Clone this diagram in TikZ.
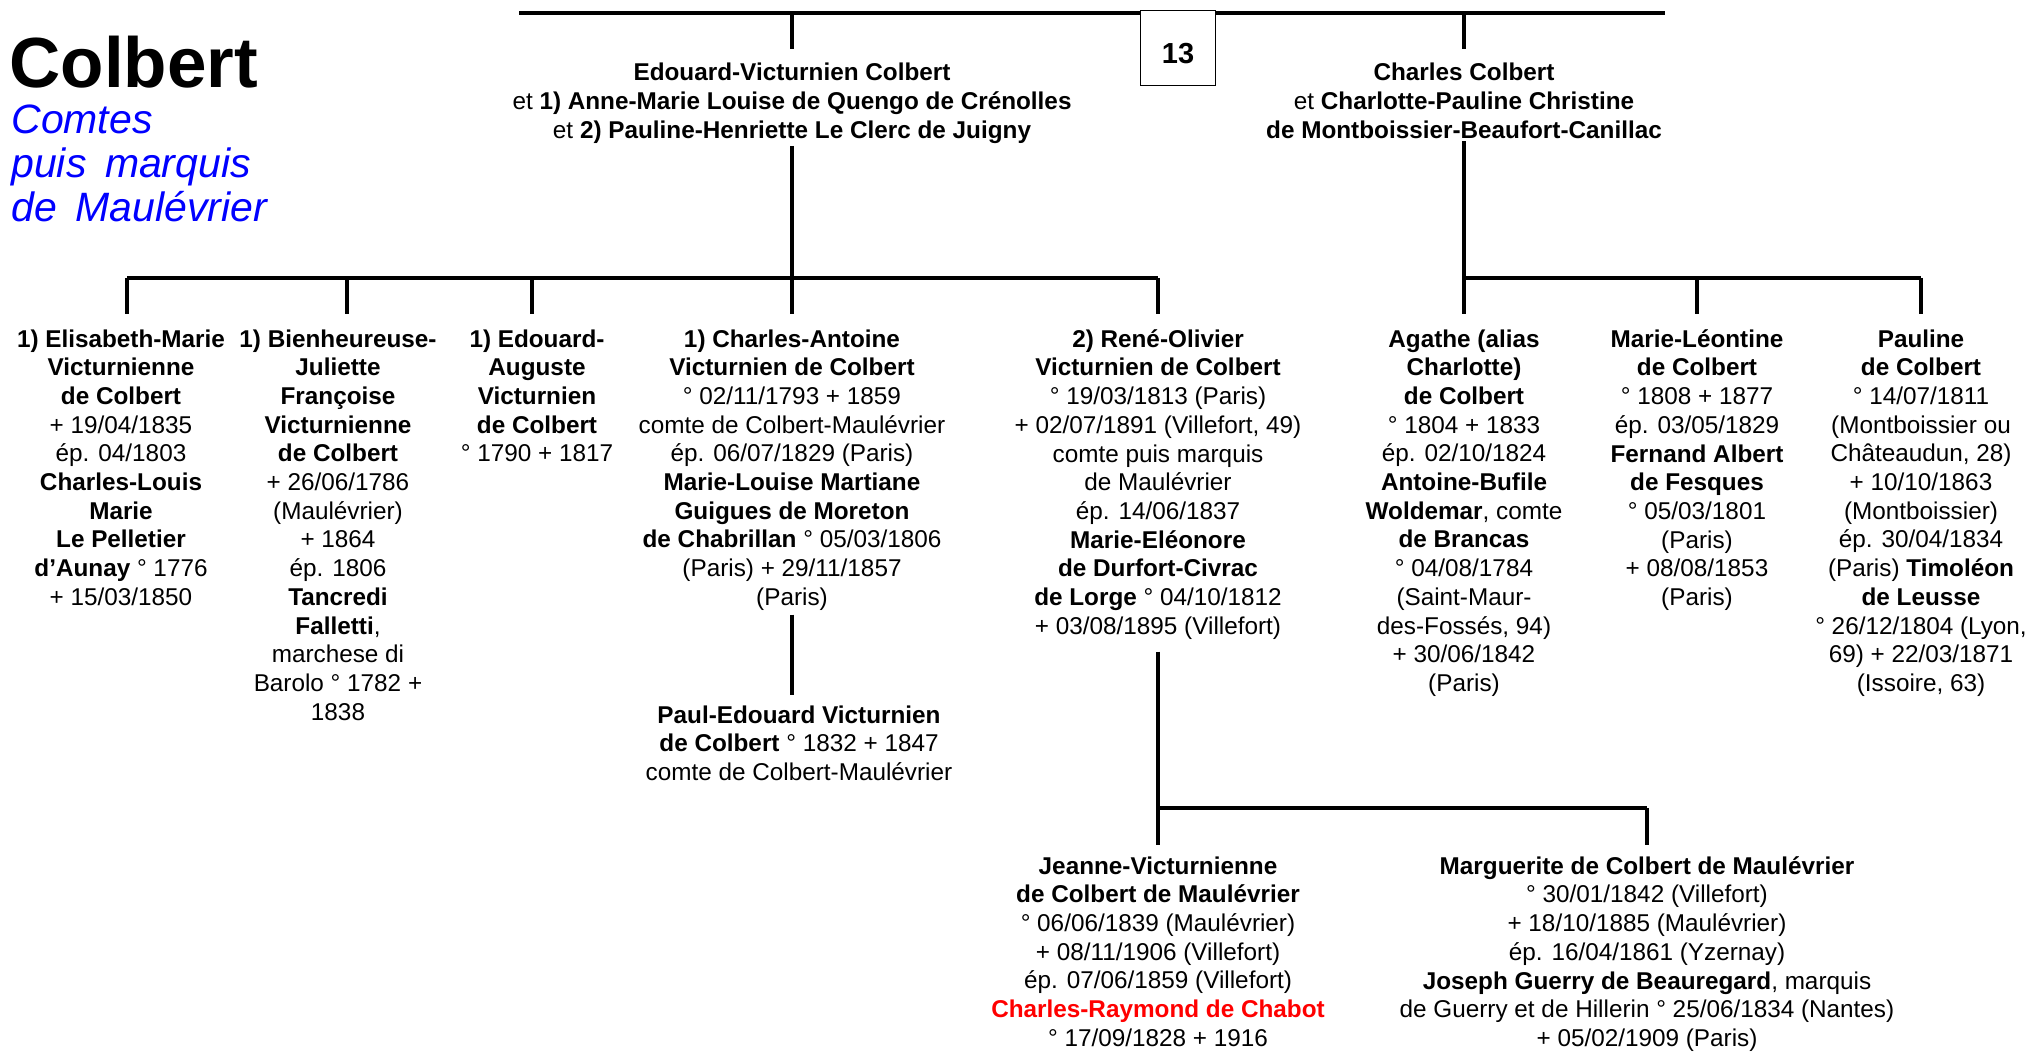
\documentclass[tikz,border=0pt]{standalone}
\usepackage{fontspec}
\setmainfont{Liberation Sans}
\usetikzlibrary{calc}
\definecolor{titleblue}{RGB}{0,0,255}
\definecolor{namered}{RGB}{255,0,0}
\newcommand{\widespaces}{\spaceskip=0.45em\relax}
\begin{document}
\begin{tikzpicture}[x=0.5pt,y=-0.5pt,
  person/.style={align=center,inner sep=0pt,anchor=north,
    font=\fontsize{12.15}{14.35}\selectfont},
  link/.style={line width=1.6pt},
  numbox/.style={draw,fill=white,line width=0.5pt,minimum size=37.5pt,inner sep=0pt,
    text height=14.9pt,text depth=0pt,font=\fontsize{14.5}{16}\selectfont\bfseries},
]
\fill[white] (0,0) rectangle (2028,1052);
\useasboundingbox (0,0) rectangle (2028,1052);

% title block
\node[anchor=base west,inner sep=0pt,font=\fontsize{35.5}{40}\selectfont\bfseries] (title) at (9,88) {Colbert};
\node[anchor=north west,inner sep=0pt,align=left,text=titleblue,
  font=\fontsize{20.5}{22}\selectfont\itshape\widespaces] (subtitle) at (11,104)
  {Comtes\\ puis marquis\\ de Maulévrier};

% parents
\node[person] (ev) at (792,63) {\textbf{Edouard-Victurnien Colbert}\\
  et \textbf{1) Anne-Marie Louise de Quengo de Crénolles}\\
  et \textbf{2) Pauline-Henriette Le Clerc de Juigny}};
\node[person] (cc) at (1464,63) {\textbf{Charles Colbert}\\
  et \textbf{Charlotte-Pauline Christine}\\
  \textbf{de Montboissier-Beaufort-Canillac}};

% children of Edouard-Victurnien
\node[person] (el) at (121,329) {\textbf{1) Elisabeth-Marie}\\ \textbf{Victurnienne}\\
  \textbf{de Colbert}\\ + 19/04/1835\\ ép. 04/1803\\ \textbf{Charles-Louis}\\
  \textbf{Marie}\\ \textbf{Le Pelletier}\\ \textbf{d’Aunay} ° 1776\\ + 15/03/1850};
\node[person] (bj) at (338,329) {\textbf{1) Bienheureuse-}\\ \textbf{Juliette}\\
  \textbf{Françoise}\\ \textbf{Victurnienne}\\ \textbf{de Colbert}\\ + 26/06/1786\\
  (Maulévrier)\\ + 1864\\ ép. 1806\\ \textbf{Tancredi}\\ \textbf{Falletti},\\
  marchese di\\ Barolo ° 1782 +\\ 1838};
\node[person] (ea) at (537,329) {\textbf{1) Edouard-}\\ \textbf{Auguste}\\
  \textbf{Victurnien}\\ \textbf{de Colbert}\\ ° 1790 + 1817};
\node[person] (ca) at (792,329) {\textbf{1) Charles-Antoine}\\
  \textbf{Victurnien de Colbert}\\ ° 02/11/1793 + 1859\\ comte de Colbert-Maulévrier\\
  ép. 06/07/1829 (Paris)\\ \textbf{Marie-Louise Martiane}\\ \textbf{Guigues de Moreton}\\
  \textbf{de Chabrillan} ° 05/03/1806\\ (Paris) + 29/11/1857\\ (Paris)};
\node[person] (ro) at (1158,329) {\textbf{2) René-Olivier}\\ \textbf{Victurnien de Colbert}\\
  ° 19/03/1813 (Paris)\\ + 02/07/1891 (Villefort, 49)\\ comte puis marquis\\
  de Maulévrier\\ ép. 14/06/1837\\ \textbf{Marie-Eléonore}\\ \textbf{de Durfort-Civrac}\\
  \textbf{de Lorge} ° 04/10/1812\\ + 03/08/1895 (Villefort)};

% children of Charles
\node[person] (ag) at (1464,329) {\textbf{Agathe (alias}\\ \textbf{Charlotte)}\\
  \textbf{de Colbert}\\ ° 1804 + 1833\\ ép. 02/10/1824\\ \textbf{Antoine-Bufile}\\
  \textbf{Woldemar}, comte\\ \textbf{de Brancas}\\ ° 04/08/1784\\ (Saint-Maur-\\
  des-Fossés, 94)\\ + 30/06/1842\\ (Paris)};
\node[person] (ml) at (1697,329) {\textbf{Marie-Léontine}\\ \textbf{de Colbert}\\
  ° 1808 + 1877\\ ép. 03/05/1829\\ \textbf{Fernand Albert}\\ \textbf{de Fesques}\\
  ° 05/03/1801\\ (Paris)\\ + 08/08/1853\\ (Paris)};
\node[person] (pa) at (1921,329) {\textbf{Pauline}\\ \textbf{de Colbert}\\
  ° 14/07/1811\\ (Montboissier ou\\ Châteaudun, 28)\\ + 10/10/1863\\ (Montboissier)\\
  ép. 30/04/1834\\ (Paris) \textbf{Timoléon}\\ \textbf{de Leusse}\\
  ° 26/12/1804 (Lyon,\\ 69) + 22/03/1871\\ (Issoire, 63)};

% grandchildren
\node[person] (pe) at (799,705) {\textbf{Paul-Edouard Victurnien}\\
  \textbf{de Colbert} ° 1832 + 1847\\ comte de Colbert-Maulévrier};
\node[person] (jv) at (1158,856) {\textbf{Jeanne-Victurnienne}\\
  \textbf{de Colbert de Maulévrier}\\ ° 06/06/1839 (Maulévrier)\\
  + 08/11/1906 (Villefort)\\ ép. 07/06/1859 (Villefort)\\
  \textcolor{namered}{\textbf{Charles-Raymond de Chabot}}\\ ° 17/09/1828 + 1916};
\node[person] (mg) at (1647,856) {\textbf{Marguerite de Colbert de Maulévrier}\\
  ° 30/01/1842 (Villefort)\\ + 18/10/1885 (Maulévrier)\\ ép. 16/04/1861 (Yzernay)\\
  \textbf{Joseph Guerry de Beauregard}, marquis\\
  de Guerry et de Hillerin ° 25/06/1834 (Nantes)\\ + 05/02/1909 (Paris)};

% junction points of the tree
\coordinate (topL) at (519,13);
\coordinate (topR) at (1665,13);
\coordinate (barL) at (127,278);
\coordinate (b2) at (347,278);
\coordinate (b3) at (532,278);
\coordinate (rbar) at (1464,278);
\coordinate (lowbar) at (1647,808);

% top line and parents
\draw[link] (topL) -- (topR);
\draw[link,shorten >=7pt] (ev.north |- topL) -- (ev.north);
\draw[link,shorten >=7pt] (cc.north |- topL) -- (cc.north);

% Edouard-Victurnien's children
\draw[link,shorten <=1pt] (ev.south) -- (ev.south |- barL);
\draw[link] (barL) -- (ro.north |- barL);
\draw[link,shorten >=7.5pt] (barL) -- (barL |- el.north);
\draw[link,shorten >=7.5pt] (b2) -- (b2 |- bj.north);
\draw[link,shorten >=7.5pt] (b3) -- (b3 |- ea.north);
\draw[link,shorten >=7.5pt] (ca.north |- barL) -- (ca.north);
\draw[link,shorten >=7.5pt] (ro.north |- barL) -- (ro.north);

% Charles's children
\draw[link,shorten <=1pt,shorten >=7.5pt] (cc.south) -- (ag.north);
\draw[link] (rbar) -- (pa.north |- rbar);
\draw[link,shorten >=7.5pt] (ml.north |- rbar) -- (ml.north);
\draw[link,shorten >=7.5pt] (pa.north |- rbar) -- (pa.north);

% grandchildren
\draw[link,shorten <=2pt,shorten >=5pt] (ca.south) -- (ca.south |- pe.north);
\draw[link,shorten <=6pt] (ro.south) -- (ro.south |- lowbar);
\draw[link] (ro.south |- lowbar) -- (lowbar);
\draw[link,shorten >=5.5pt] (ro.south |- lowbar) -- (jv.north);
\draw[link,shorten >=5.5pt] (lowbar) -- (mg.north);

% page reference box, laid over the top line
\node[numbox] (box13) at (1178,48.5) {13};
\end{tikzpicture}
\end{document}
